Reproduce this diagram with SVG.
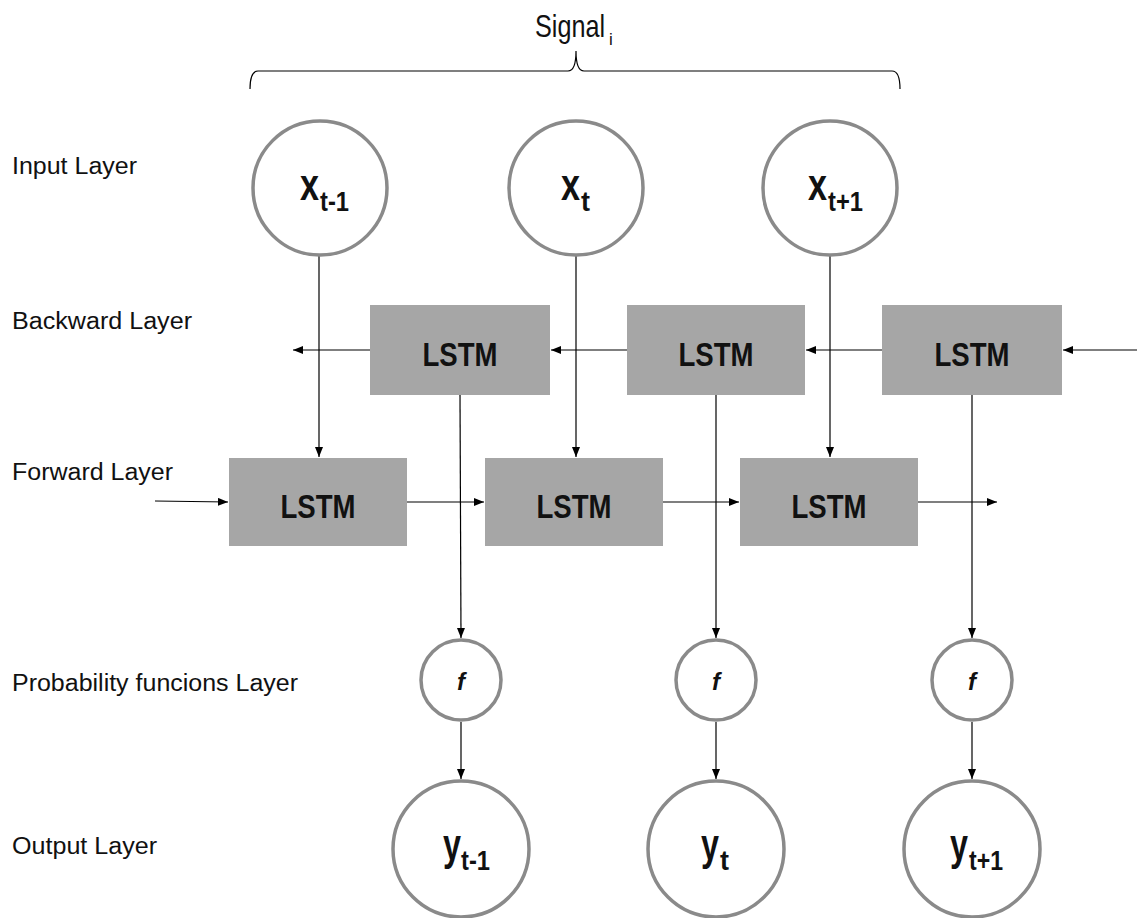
<svg xmlns="http://www.w3.org/2000/svg" width="1137" height="918" viewBox="0 0 1137 918">
<defs>
<marker id="ah" markerWidth="10" markerHeight="8" refX="10" refY="4" orient="auto" markerUnits="userSpaceOnUse">
<path d="M0,0 L10,4 L0,8 Z" fill="#000"/>
</marker>
<style>
.lbl{font-family:"Liberation Sans",Arial,sans-serif;font-size:23px;fill:#111}
.circ{fill:#fff;stroke:#8a8a8a;stroke-width:3.5}
.box{fill:#a6a6a6}
.lstm{font-family:"Liberation Sans",Arial,sans-serif;font-size:33px;font-weight:bold;fill:#111;text-anchor:middle}
.var{font-family:"Liberation Sans",Arial,sans-serif;font-weight:bold;fill:#111;font-size:44px}
.sub{font-size:27px}
.fn{font-family:"Liberation Sans",Arial,sans-serif;font-size:24px;font-weight:bold;font-style:italic;fill:#111;text-anchor:middle}
.conn line,.conn path{stroke:#000;stroke-width:1.2;fill:none}
</style>
</defs>
<rect width="1137" height="918" fill="#fff"/>

<g id="labels">
<text class="lbl" x="12" y="174" textLength="125" lengthAdjust="spacingAndGlyphs">Input Layer</text>
<text class="lbl" x="12" y="329" textLength="180" lengthAdjust="spacingAndGlyphs">Backward Layer</text>
<text class="lbl" x="12" y="480" textLength="161" lengthAdjust="spacingAndGlyphs">Forward Layer</text>
<text class="lbl" x="12" y="691" textLength="286" lengthAdjust="spacingAndGlyphs">Probability funcions Layer</text>
<text class="lbl" x="12" y="854" textLength="145" lengthAdjust="spacingAndGlyphs">Output Layer</text>
</g>

<g id="signal">
<text class="lbl" x="535" y="37" style="font-size:32px"><tspan textLength="70" lengthAdjust="spacingAndGlyphs">Signal</tspan><tspan x="609" dy="8" style="font-size:17px">i</tspan></text>
<path d="M250,89 Q250,71 258,71 L568,71 Q576,71 576,51 Q576,71 584,71 L892,71 Q900,71 900,89" fill="none" stroke="#000" stroke-width="1.2"/>
</g>

<g class="conn" id="connectors">
<line x1="319" y1="256" x2="319" y2="457" marker-end="url(#ah)"/>
<line x1="576" y1="256" x2="576" y2="457" marker-end="url(#ah)"/>
<line x1="830" y1="256" x2="830" y2="457" marker-end="url(#ah)"/>
<line x1="1137" y1="350" x2="1063" y2="350" marker-end="url(#ah)"/>
<line x1="882" y1="350" x2="806" y2="350" marker-end="url(#ah)"/>
<line x1="627" y1="350" x2="551" y2="350" marker-end="url(#ah)"/>
<line x1="370" y1="350" x2="293" y2="350" marker-end="url(#ah)"/>
<line x1="155" y1="501" x2="228" y2="502" marker-end="url(#ah)"/>
<line x1="407" y1="502" x2="484" y2="502" marker-end="url(#ah)"/>
<line x1="663" y1="502" x2="739" y2="502" marker-end="url(#ah)"/>
<line x1="918" y1="502" x2="997" y2="502" marker-end="url(#ah)"/>
<line x1="460" y1="395" x2="461" y2="638" marker-end="url(#ah)"/>
<line x1="716" y1="395" x2="716" y2="638" marker-end="url(#ah)"/>
<line x1="972" y1="395" x2="972" y2="638" marker-end="url(#ah)"/>
<line x1="461" y1="722" x2="461" y2="779" marker-end="url(#ah)"/>
<line x1="716" y1="722" x2="716" y2="779" marker-end="url(#ah)"/>
<line x1="972" y1="722" x2="972" y2="779" marker-end="url(#ah)"/>
</g>

<g id="x_tm1"><circle class="circ" cx="320" cy="188" r="67"/><text class="var" x="300" y="200"><tspan textLength="19" lengthAdjust="spacingAndGlyphs">x</tspan><tspan class="sub" x="320" dy="11" textLength="29" lengthAdjust="spacingAndGlyphs">t-1</tspan></text></g>
<g id="x_t"><circle class="circ" cx="576" cy="188" r="67"/><text class="var" x="561" y="200"><tspan textLength="19" lengthAdjust="spacingAndGlyphs">x</tspan><tspan class="sub" x="581" dy="11" textLength="9" lengthAdjust="spacingAndGlyphs">t</tspan></text></g>
<g id="x_tp1"><circle class="circ" cx="830" cy="188" r="67"/><text class="var" x="808" y="200"><tspan textLength="19" lengthAdjust="spacingAndGlyphs">x</tspan><tspan class="sub" x="828" dy="11" textLength="35" lengthAdjust="spacingAndGlyphs">t+1</tspan></text></g>

<g id="b1"><rect class="box" x="370" y="305" width="180" height="90"/><text class="lstm" x="460" y="366" textLength="75" lengthAdjust="spacingAndGlyphs">LSTM</text></g>
<g id="b2"><rect class="box" x="627" y="305" width="178" height="90"/><text class="lstm" x="716" y="366" textLength="75" lengthAdjust="spacingAndGlyphs">LSTM</text></g>
<g id="b3"><rect class="box" x="882" y="305" width="180" height="90"/><text class="lstm" x="972" y="366" textLength="75" lengthAdjust="spacingAndGlyphs">LSTM</text></g>

<g id="f1"><rect class="box" x="229" y="458" width="178" height="88"/><text class="lstm" x="318" y="518" textLength="75" lengthAdjust="spacingAndGlyphs">LSTM</text></g>
<g id="f2"><rect class="box" x="485" y="458" width="178" height="88"/><text class="lstm" x="574" y="518" textLength="75" lengthAdjust="spacingAndGlyphs">LSTM</text></g>
<g id="f3"><rect class="box" x="740" y="458" width="178" height="88"/><text class="lstm" x="829" y="518" textLength="75" lengthAdjust="spacingAndGlyphs">LSTM</text></g>

<g id="p1"><circle class="circ" cx="461" cy="680" r="40"/><text class="fn" x="461" y="690">f</text></g>
<g id="p2"><circle class="circ" cx="716" cy="680" r="40"/><text class="fn" x="716" y="690">f</text></g>
<g id="p3"><circle class="circ" cx="972" cy="680" r="40"/><text class="fn" x="972" y="690">f</text></g>

<g id="y_tm1"><circle class="circ" cx="461" cy="849" r="68"/><text class="var" x="443" y="860" style="font-size:45px"><tspan textLength="18" lengthAdjust="spacingAndGlyphs">y</tspan><tspan class="sub" x="461" dy="10" textLength="29" lengthAdjust="spacingAndGlyphs">t-1</tspan></text></g>
<g id="y_t"><circle class="circ" cx="716" cy="849" r="68"/><text class="var" x="701" y="860" style="font-size:45px"><tspan textLength="18" lengthAdjust="spacingAndGlyphs">y</tspan><tspan class="sub" x="720" dy="10" textLength="9" lengthAdjust="spacingAndGlyphs">t</tspan></text></g>
<g id="y_tp1"><circle class="circ" cx="972" cy="849" r="68"/><text class="var" x="950" y="860" style="font-size:45px"><tspan textLength="18" lengthAdjust="spacingAndGlyphs">y</tspan><tspan class="sub" x="969" dy="10" textLength="34" lengthAdjust="spacingAndGlyphs">t+1</tspan></text></g>
</svg>
